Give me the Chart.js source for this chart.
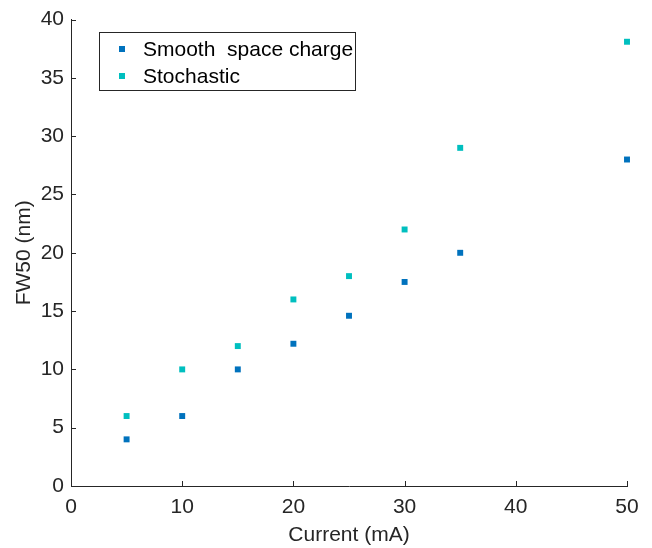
<!DOCTYPE html>
<html><head><meta charset="utf-8">
<script src="https://cdn.jsdelivr.net/npm/chart.js@4"></script>
<style>html,body{margin:0;padding:0;background:#fff}#wrap{width:652px;height:548px}</style>
</head><body><div id="wrap"><canvas id="c" width="652" height="548"></canvas></div>
<script>
const currents = [5, 10, 15, 20, 25, 30, 35, 50];
const smoothFW50 = [4, 6, 10, 12.2, 14.6, 17.5, 20, 28];
const stochasticFW50 = [6, 10, 12, 16, 18, 22, 29, 38.1];
const seriesLabels = ['Smooth  space charge', 'Stochastic'];
const xTitle = 'Current (mA)';
const yTitle = 'FW50 (nm)';
const ink = '#262626';
const font = 'Liberation Sans, Arial, sans-serif';
const fs = 21;

const innerTicks = {
  id: 'innerTicks',
  afterDraw(chart) {
    const {ctx, chartArea: a, scales: {x, y}} = chart;
    ctx.save();
    ctx.strokeStyle = ink; ctx.lineWidth = 1;
    ctx.beginPath();
    x.ticks.forEach(t => { const px = Math.round(x.getPixelForValue(t.value)) + 0.5; ctx.moveTo(px, a.bottom); ctx.lineTo(px, a.bottom - 5); });
    y.ticks.forEach(t => { const py = Math.round(y.getPixelForValue(t.value)) + 0.5; ctx.moveTo(a.left, py); ctx.lineTo(a.left + 5, py); });
    ctx.stroke();
    // legend box
    const lx = 99.5, ly = 32.5, lw = 256, lh = 58;
    ctx.fillStyle = '#fff'; ctx.fillRect(lx, ly, lw, lh);
    ctx.strokeStyle = ink; ctx.strokeRect(lx, ly, lw, lh);
    ctx.font = fs + 'px ' + font; ctx.textBaseline = 'middle'; ctx.textAlign = 'left';
    chart.data.datasets.forEach((ds, i) => {
      const yy = 49 + i * 27;
      ctx.fillStyle = ds.backgroundColor;
      ctx.fillRect(119, yy - 3, 6, 6);
      ctx.fillStyle = '#000';
      ctx.fillText(ds.label, 143, yy + 1);
    });
    ctx.restore();
  }
};

new Chart(document.getElementById('c'), {
  type: 'scatter',
  data: {
    datasets: [
      { label: seriesLabels[0], data: currents.map((c, i) => ({x: c, y: smoothFW50[i]})), backgroundColor: '#0072BD', borderColor: '#0072BD', pointStyle: 'rect', pointRadius: 4.2, borderWidth: 0, clip: false },
      { label: seriesLabels[1], data: currents.map((c, i) => ({x: c, y: stochasticFW50[i]})), backgroundColor: '#00BFBF', borderColor: '#00BFBF', pointStyle: 'rect', pointRadius: 4.2, borderWidth: 0, clip: false }
    ]
  },
  options: {
    responsive: false, animation: false, devicePixelRatio: 1,
    layout: { padding: { top: 18, right: 25, left: 0, bottom: 0 } },
    plugins: { legend: { display: false }, tooltip: { enabled: false } },
    scales: {
      x: {
        type: 'linear', min: 0, max: 50,
        ticks: { stepSize: 10, color: ink, font: { family: font, size: fs }, padding: 9, maxRotation: 0 },
        grid: { display: false, drawTicks: false },
        border: { display: true, color: ink, width: 1 },
        title: { display: true, text: xTitle, color: ink, font: { family: font, size: fs }, padding: { top: 2, bottom: 0 } },
        afterFit(s) { s.height = 62; }
      },
      y: {
        type: 'linear', min: 0, max: 40,
        ticks: { stepSize: 5, color: ink, font: { family: font, size: fs }, padding: 7 },
        grid: { display: false, drawTicks: false },
        border: { display: true, color: ink, width: 1 },
        title: { display: true, text: yTitle, color: ink, font: { family: font, size: fs }, padding: { top: 12, bottom: 0 } },
        afterFit(s) { s.width = 71; }
      }
    }
  },
  plugins: [innerTicks]
});
</script></body></html>
